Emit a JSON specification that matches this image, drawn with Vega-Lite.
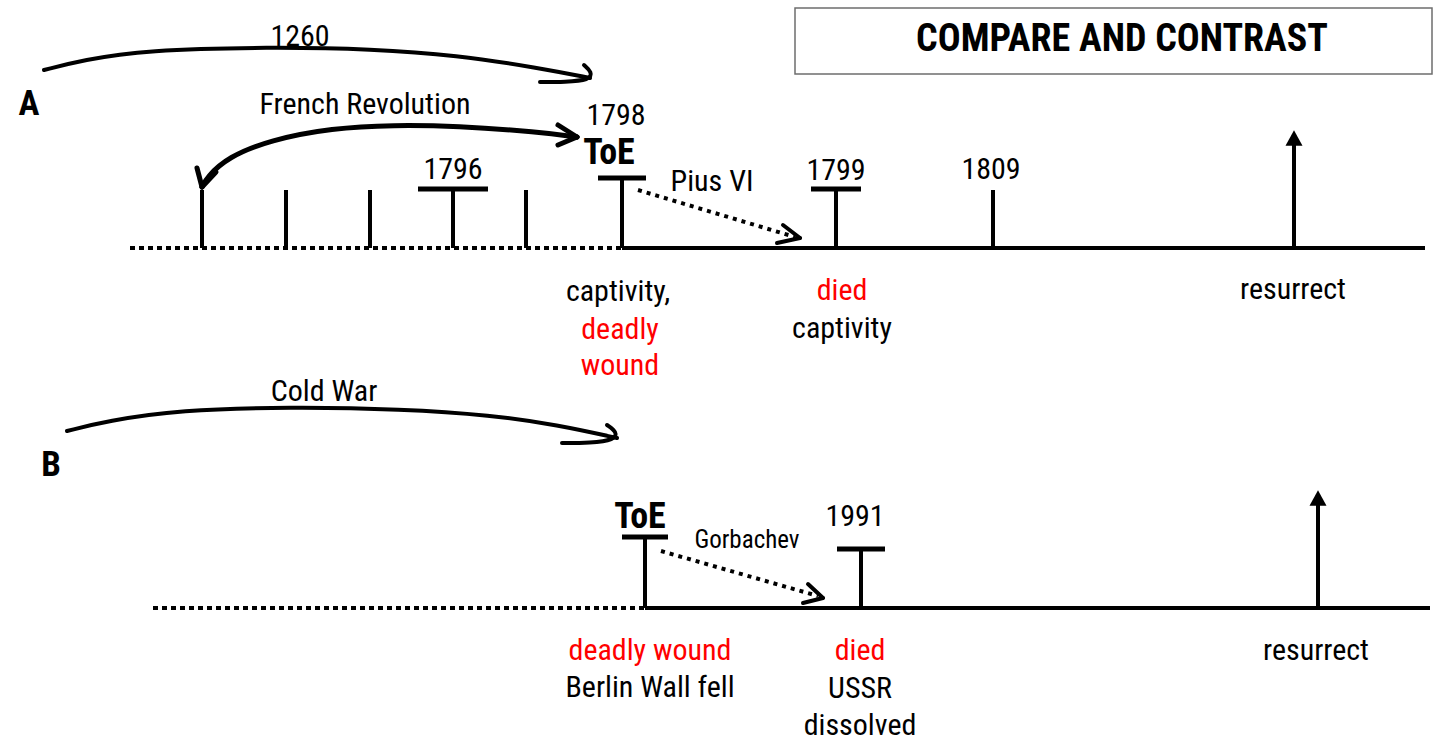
{
  "$schema": "https://vega.github.io/schema/vega-lite/v6.json",
  "width": 1435,
  "height": 743,
  "autosize": {"type": "fit", "contains": "padding"},
  "padding": 0,
  "background": "white",
  "config": {"view": {"stroke": null}},
  "datasets": {
    "box": [{"x": 795, "x2": 1432, "y": 8, "y2": 74}],
    "segments": [
      {"part": "axis", "x": 622, "y": 248, "x2": 1425, "y2": 248},
      {"part": "axis", "x": 645, "y": 608, "x2": 1430, "y2": 608},
      {"part": "tick", "x": 202, "y": 248, "x2": 202, "y2": 190},
      {"part": "tick", "x": 286, "y": 248, "x2": 286, "y2": 190},
      {"part": "tick", "x": 370, "y": 248, "x2": 370, "y2": 190},
      {"part": "tick", "x": 453, "y": 248, "x2": 453, "y2": 190},
      {"part": "tick", "x": 526, "y": 248, "x2": 526, "y2": 190},
      {"part": "tick", "x": 622, "y": 248, "x2": 622, "y2": 178},
      {"part": "tick", "x": 836, "y": 248, "x2": 836, "y2": 190},
      {"part": "tick", "x": 993, "y": 248, "x2": 993, "y2": 190},
      {"part": "tick", "x": 645, "y": 608, "x2": 645, "y2": 537},
      {"part": "tick", "x": 861, "y": 608, "x2": 861, "y2": 549},
      {"part": "tick", "x": 1294, "y": 248, "x2": 1294, "y2": 144},
      {"part": "tick", "x": 1318, "y": 608, "x2": 1318, "y2": 504},
      {"part": "bar", "x": 418, "y": 189, "x2": 488, "y2": 189},
      {"part": "bar", "x": 598, "y": 178, "x2": 646, "y2": 178},
      {"part": "bar", "x": 811, "y": 189, "x2": 861, "y2": 189},
      {"part": "bar", "x": 622, "y": 537, "x2": 668, "y2": 537},
      {"part": "bar", "x": 837, "y": 549, "x2": 885, "y2": 549},
      {"part": "dots", "x": 130, "y": 248, "x2": 622, "y2": 248},
      {"part": "dots", "x": 153, "y": 608, "x2": 645, "y2": 608},
      {"part": "diag", "x": 638, "y": 190, "x2": 795, "y2": 237},
      {"part": "diag", "x": 661, "y": 551, "x2": 818, "y2": 596},
      {"part": "head", "x": 783, "y": 225, "x2": 800, "y2": 238},
      {"part": "head", "x": 800, "y": 238, "x2": 777, "y2": 243},
      {"part": "head", "x": 808, "y": 584, "x2": 823, "y2": 598},
      {"part": "head", "x": 823, "y": 598, "x2": 803, "y2": 603},
      {"part": "bighead", "x": 558, "y": 125, "x2": 577, "y2": 137},
      {"part": "bighead", "x": 577, "y": 137, "x2": 558, "y2": 145},
      {"part": "bighead", "x": 197, "y": 168, "x2": 202, "y2": 187},
      {"part": "bighead", "x": 202, "y": 187, "x2": 216, "y2": 172}
    ],
    "curves": [
      {"id": "1260", "ord": 1, "x": 44, "y": 70},
      {"id": "1260", "ord": 2, "x": 83, "y": 60},
      {"id": "1260", "ord": 3, "x": 145, "y": 50},
      {"id": "1260", "ord": 4, "x": 270, "y": 47},
      {"id": "1260", "ord": 5, "x": 373, "y": 49},
      {"id": "1260", "ord": 6, "x": 456, "y": 55},
      {"id": "1260", "ord": 7, "x": 539, "y": 68},
      {"id": "1260", "ord": 8, "x": 590, "y": 78},
      {"id": "1260h", "ord": 1, "x": 584, "y": 65},
      {"id": "1260h", "ord": 2, "x": 592, "y": 72},
      {"id": "1260h", "ord": 3, "x": 590, "y": 80},
      {"id": "1260h", "ord": 4, "x": 565, "y": 82},
      {"id": "1260h", "ord": 5, "x": 540, "y": 82},
      {"id": "cold", "ord": 1, "x": 67, "y": 431},
      {"id": "cold", "ord": 2, "x": 107, "y": 421},
      {"id": "cold", "ord": 3, "x": 179, "y": 410},
      {"id": "cold", "ord": 4, "x": 290, "y": 407},
      {"id": "cold", "ord": 5, "x": 402, "y": 409},
      {"id": "cold", "ord": 6, "x": 491, "y": 415},
      {"id": "cold", "ord": 7, "x": 558, "y": 425},
      {"id": "cold", "ord": 8, "x": 617, "y": 438},
      {"id": "coldh", "ord": 1, "x": 607, "y": 425},
      {"id": "coldh", "ord": 2, "x": 617, "y": 432},
      {"id": "coldh", "ord": 3, "x": 615, "y": 440},
      {"id": "coldh", "ord": 4, "x": 590, "y": 443},
      {"id": "coldh", "ord": 5, "x": 562, "y": 443},
      {"id": "fr", "ord": 1, "x": 577, "y": 137},
      {"id": "fr", "ord": 2, "x": 539, "y": 132},
      {"id": "fr", "ord": 3, "x": 456, "y": 126},
      {"id": "fr", "ord": 4, "x": 394, "y": 125},
      {"id": "fr", "ord": 5, "x": 332, "y": 128},
      {"id": "fr", "ord": 6, "x": 270, "y": 140},
      {"id": "fr", "ord": 7, "x": 228, "y": 157},
      {"id": "fr", "ord": 8, "x": 207, "y": 177},
      {"id": "fr", "ord": 9, "x": 202, "y": 187}
    ],
    "tips": [
      {"x": 1294, "y": 138},
      {"x": 1318, "y": 498}
    ],
    "labels": [
      {"kind": "plain", "x": 300, "y": 37, "text": "1260"},
      {"kind": "plain", "x": 365, "y": 105, "text": "French Revolution"},
      {"kind": "plain", "x": 616, "y": 116, "text": "1798"},
      {"kind": "plain", "x": 453, "y": 170, "text": "1796"},
      {"kind": "plain", "x": 712, "y": 182, "text": "Pius VI"},
      {"kind": "plain", "x": 836, "y": 171, "text": "1799"},
      {"kind": "plain", "x": 991, "y": 170, "text": "1809"},
      {"kind": "plain", "x": 618, "y": 292, "text": "captivity,"},
      {"kind": "red", "x": 620, "y": 330, "text": "deadly"},
      {"kind": "red", "x": 620, "y": 366, "text": "wound"},
      {"kind": "red", "x": 842, "y": 291, "text": "died"},
      {"kind": "plain", "x": 842, "y": 329, "text": "captivity"},
      {"kind": "plain", "x": 1293, "y": 290, "text": "resurrect"},
      {"kind": "plain", "x": 324, "y": 392, "text": "Cold War"},
      {"kind": "small", "x": 747, "y": 540, "text": "Gorbachev"},
      {"kind": "plain", "x": 855, "y": 517, "text": "1991"},
      {"kind": "red", "x": 650, "y": 651, "text": "deadly wound"},
      {"kind": "plain", "x": 650, "y": 688, "text": "Berlin Wall fell"},
      {"kind": "red", "x": 860, "y": 651, "text": "died"},
      {"kind": "plain", "x": 860, "y": 689, "text": "USSR"},
      {"kind": "plain", "x": 860, "y": 726, "text": "dissolved"},
      {"kind": "plain", "x": 1316, "y": 651, "text": "resurrect"},
      {"kind": "letter", "x": 29, "y": 104, "text": "A"},
      {"kind": "letter", "x": 51, "y": 465, "text": "B"},
      {"kind": "toe", "x": 609, "y": 153, "text": "ToE"},
      {"kind": "toe", "x": 640, "y": 517, "text": "ToE"},
      {"kind": "title", "x": 1122, "y": 40, "text": "COMPARE AND CONTRAST"}
    ]
  },
  "layer": [
    {
      "data": {"name": "box"},
      "mark": {"type": "rect", "fill": "white", "stroke": "#6e6e6e", "strokeWidth": 1.5},
      "encoding": {
        "x": {"field": "x", "type": "quantitative", "scale": {"domain": [0, 1435], "nice": false, "zero": false}, "axis": null},
        "x2": {"field": "x2"},
        "y": {"field": "y", "type": "quantitative", "scale": {"domain": [0, 743], "nice": false, "zero": false, "reverse": true}, "axis": null},
        "y2": {"field": "y2"}
      }
    },
    {
      "data": {"name": "curves"},
      "transform": [{"filter": "datum.id !== 'fr'"}],
      "mark": {"type": "line", "interpolate": "basis", "strokeWidth": 4, "color": "black", "strokeCap": "round", "strokeJoin": "round"},
      "encoding": {
        "x": {"field": "x", "type": "quantitative", "axis": null},
        "y": {"field": "y", "type": "quantitative", "axis": null},
        "detail": {"field": "id"},
        "order": {"field": "ord", "type": "quantitative"}
      }
    },
    {
      "data": {"name": "curves"},
      "transform": [{"filter": "datum.id === 'fr'"}],
      "mark": {"type": "line", "interpolate": "basis", "strokeWidth": 5, "color": "black", "strokeCap": "round"},
      "encoding": {
        "x": {"field": "x", "type": "quantitative", "axis": null},
        "y": {"field": "y", "type": "quantitative", "axis": null},
        "detail": {"field": "id"},
        "order": {"field": "ord", "type": "quantitative"}
      }
    },
    {
      "data": {"name": "segments"},
      "transform": [{"filter": "datum.part === 'axis' || datum.part === 'tick'"}],
      "mark": {"type": "rule", "strokeWidth": 4, "color": "black", "strokeCap": "butt"},
      "encoding": {
        "x": {"field": "x", "type": "quantitative", "axis": null},
        "y": {"field": "y", "type": "quantitative", "axis": null},
        "x2": {"field": "x2"},
        "y2": {"field": "y2"}
      }
    },
    {
      "data": {"name": "segments"},
      "transform": [{"filter": "datum.part === 'bar'"}],
      "mark": {"type": "rule", "strokeWidth": 5, "color": "black", "strokeCap": "butt"},
      "encoding": {
        "x": {"field": "x", "type": "quantitative", "axis": null},
        "y": {"field": "y", "type": "quantitative", "axis": null},
        "x2": {"field": "x2"},
        "y2": {"field": "y2"}
      }
    },
    {
      "data": {"name": "segments"},
      "transform": [{"filter": "datum.part === 'dots'"}],
      "mark": {"type": "rule", "strokeWidth": 4, "color": "black", "strokeDash": [5, 4], "strokeCap": "butt"},
      "encoding": {
        "x": {"field": "x", "type": "quantitative", "axis": null},
        "y": {"field": "y", "type": "quantitative", "axis": null},
        "x2": {"field": "x2"},
        "y2": {"field": "y2"}
      }
    },
    {
      "data": {"name": "segments"},
      "transform": [{"filter": "datum.part === 'diag'"}],
      "mark": {"type": "rule", "strokeWidth": 4, "color": "black", "strokeDash": [4, 5], "strokeCap": "butt"},
      "encoding": {
        "x": {"field": "x", "type": "quantitative", "axis": null},
        "y": {"field": "y", "type": "quantitative", "axis": null},
        "x2": {"field": "x2"},
        "y2": {"field": "y2"}
      }
    },
    {
      "data": {"name": "segments"},
      "transform": [{"filter": "datum.part === 'head'"}],
      "mark": {"type": "rule", "strokeWidth": 4, "color": "black", "strokeCap": "round"},
      "encoding": {
        "x": {"field": "x", "type": "quantitative", "axis": null},
        "y": {"field": "y", "type": "quantitative", "axis": null},
        "x2": {"field": "x2"},
        "y2": {"field": "y2"}
      }
    },
    {
      "data": {"name": "segments"},
      "transform": [{"filter": "datum.part === 'bighead'"}],
      "mark": {"type": "rule", "strokeWidth": 5, "color": "black", "strokeCap": "round"},
      "encoding": {
        "x": {"field": "x", "type": "quantitative", "axis": null},
        "y": {"field": "y", "type": "quantitative", "axis": null},
        "x2": {"field": "x2"},
        "y2": {"field": "y2"}
      }
    },
    {
      "data": {"name": "tips"},
      "mark": {"type": "point", "shape": "M-1,0.9L0,-0.9L1,0.9Z", "filled": true, "size": 289, "color": "black", "opacity": 1},
      "encoding": {
        "x": {"field": "x", "type": "quantitative", "axis": null},
        "y": {"field": "y", "type": "quantitative", "axis": null}
      }
    },
    {
      "data": {"name": "labels"},
      "transform": [{"filter": "datum.kind === 'plain'"}],
      "mark": {"type": "text", "font": "Roboto Condensed, Liberation Sans", "fontSize": 30, "color": "#000000", "align": "center", "baseline": "middle"},
      "encoding": {
        "x": {"field": "x", "type": "quantitative", "axis": null},
        "y": {"field": "y", "type": "quantitative", "axis": null},
        "text": {"field": "text"}
      }
    },
    {
      "data": {"name": "labels"},
      "transform": [{"filter": "datum.kind === 'red'"}],
      "mark": {"type": "text", "font": "Roboto Condensed, Liberation Sans", "fontSize": 30, "color": "#ff0000", "align": "center", "baseline": "middle"},
      "encoding": {
        "x": {"field": "x", "type": "quantitative", "axis": null},
        "y": {"field": "y", "type": "quantitative", "axis": null},
        "text": {"field": "text"}
      }
    },
    {
      "data": {"name": "labels"},
      "transform": [{"filter": "datum.kind === 'small'"}],
      "mark": {"type": "text", "font": "Roboto Condensed, Liberation Sans", "fontSize": 25, "color": "#000000", "align": "center", "baseline": "middle"},
      "encoding": {
        "x": {"field": "x", "type": "quantitative", "axis": null},
        "y": {"field": "y", "type": "quantitative", "axis": null},
        "text": {"field": "text"}
      }
    },
    {
      "data": {"name": "labels"},
      "transform": [{"filter": "datum.kind === 'letter'"}],
      "mark": {"type": "text", "font": "Roboto Condensed, Liberation Sans", "fontWeight": "bold", "fontSize": 35, "color": "#000000", "align": "center", "baseline": "middle"},
      "encoding": {
        "x": {"field": "x", "type": "quantitative", "axis": null},
        "y": {"field": "y", "type": "quantitative", "axis": null},
        "text": {"field": "text"}
      }
    },
    {
      "data": {"name": "labels"},
      "transform": [{"filter": "datum.kind === 'toe'"}],
      "mark": {"type": "text", "font": "Roboto Condensed, Liberation Sans", "fontWeight": "bold", "fontSize": 36, "color": "#000000", "align": "center", "baseline": "middle"},
      "encoding": {
        "x": {"field": "x", "type": "quantitative", "axis": null},
        "y": {"field": "y", "type": "quantitative", "axis": null},
        "text": {"field": "text"}
      }
    },
    {
      "data": {"name": "labels"},
      "transform": [{"filter": "datum.kind === 'title'"}],
      "mark": {"type": "text", "font": "Roboto Condensed, Liberation Sans", "fontWeight": "bold", "fontSize": 38, "color": "#000000", "align": "center", "baseline": "middle"},
      "encoding": {
        "x": {"field": "x", "type": "quantitative", "axis": null},
        "y": {"field": "y", "type": "quantitative", "axis": null},
        "text": {"field": "text"}
      }
    }
  ]
}
